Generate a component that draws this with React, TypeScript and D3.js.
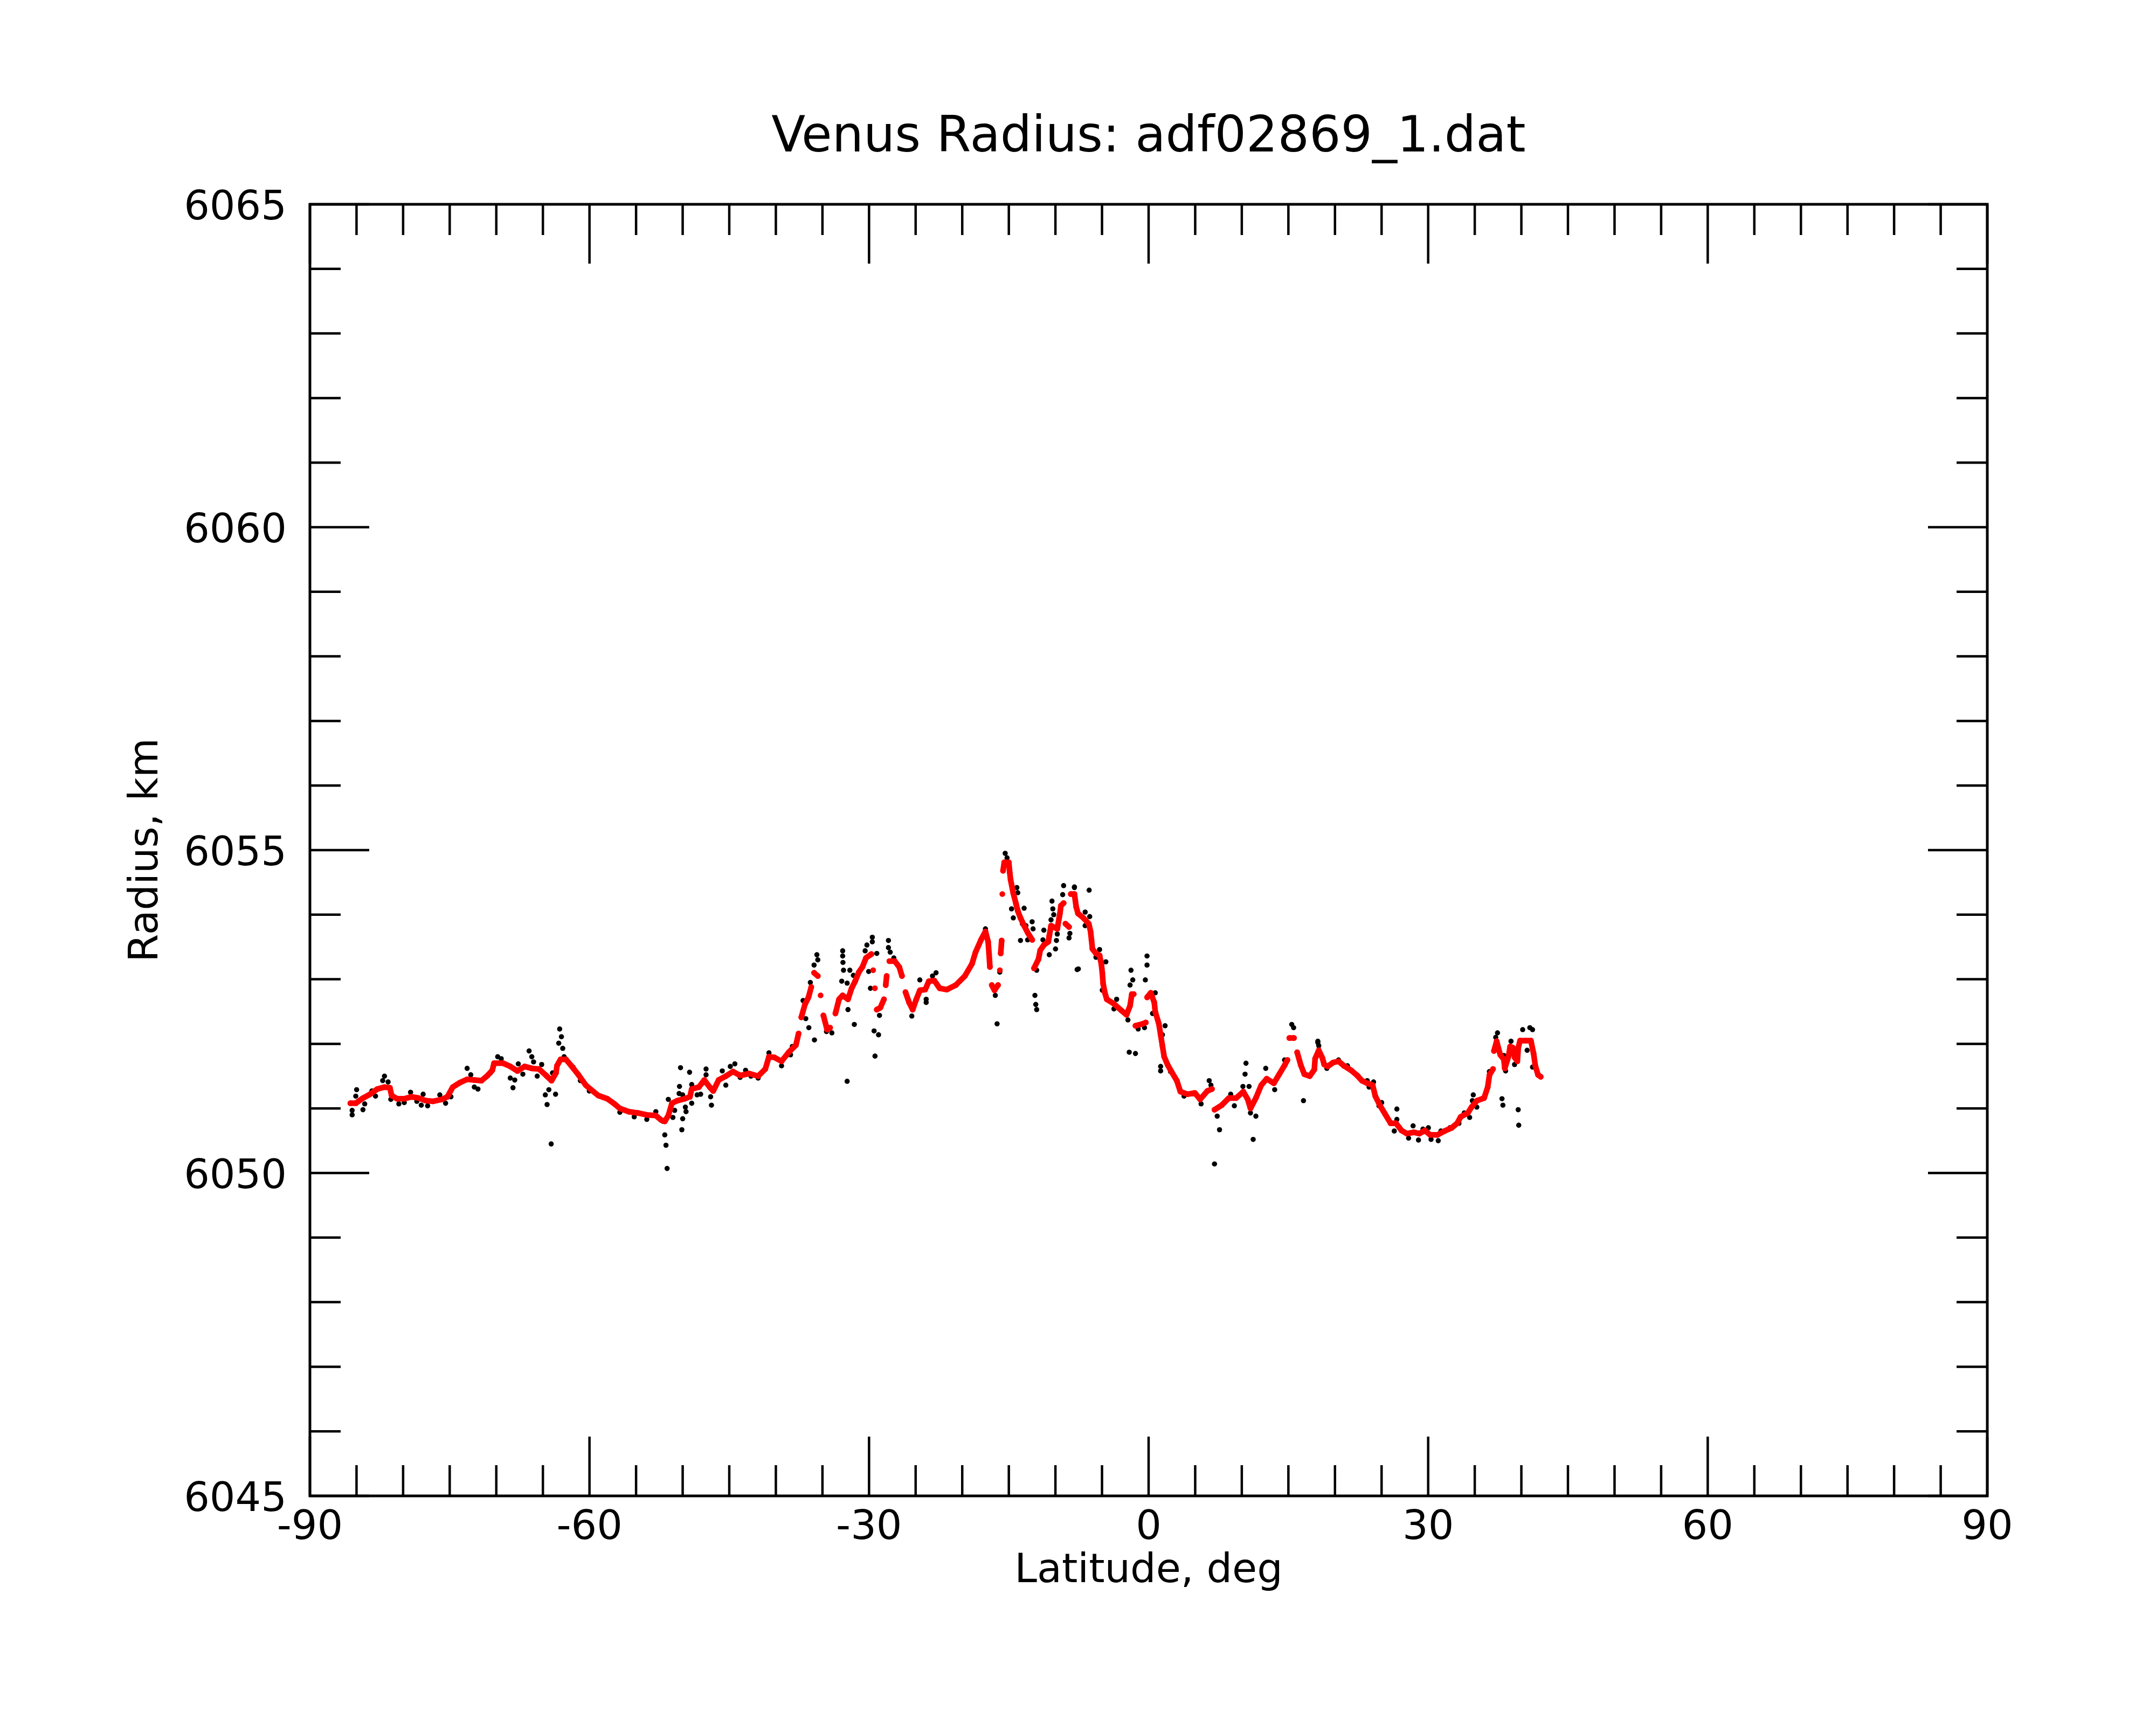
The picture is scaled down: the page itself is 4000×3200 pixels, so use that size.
// App.tsx
// Venus radius profile vs. latitude: raw samples (black) with the smoothed
// profile (red) drawn over them, in an IDL-style boxed frame.
import React, { useMemo } from 'react';
import * as d3 from 'd3';

const title = 'Venus Radius: adf02869_1.dat';
const xLabel = 'Latitude, deg';
const yLabel = 'Radius, km';

const xDomain: [number, number] = [-90, 90];
const yDomain: [number, number] = [6045, 6065];
const xMajorTicks = [-90, -60, -30, 0, 30, 60, 90];
const yMajorTicks = [6045, 6050, 6055, 6060, 6065];
const xMinorStep = 5;
const yMinorStep = 1;

// smoothed profile [latitude, radius km]
const smoothPoints: [number, number][] = [
  [-85.66, 6051.08], [-85.08, 6051.08], [-84.31, 6051.16], [-83.54, 6051.22],
  [-82.77, 6051.3], [-82.0, 6051.33], [-81.42, 6051.32], [-81.23, 6051.2],
  [-80.65, 6051.15], [-79.88, 6051.15], [-79.11, 6051.18], [-78.33, 6051.16],
  [-77.56, 6051.12], [-76.8, 6051.11], [-75.83, 6051.14], [-75.25, 6051.18],
  [-74.67, 6051.33], [-73.9, 6051.4], [-73.13, 6051.45], [-72.36, 6051.44],
  [-71.59, 6051.43], [-71.01, 6051.5], [-70.43, 6051.59], [-70.24, 6051.7],
  [-69.27, 6051.7], [-68.5, 6051.65], [-67.73, 6051.58], [-66.96, 6051.65],
  [-66.19, 6051.62], [-65.42, 6051.61], [-64.65, 6051.51], [-64.07, 6051.43],
  [-63.59, 6051.55], [-63.49, 6051.66], [-63.1, 6051.76], [-62.53, 6051.76],
  [-61.95, 6051.66], [-61.18, 6051.52], [-60.4, 6051.36], [-59.82, 6051.29],
  [-59.06, 6051.2], [-58.09, 6051.15], [-57.32, 6051.07], [-56.74, 6051.0],
  [-55.78, 6050.95], [-54.81, 6050.93], [-53.85, 6050.9], [-52.88, 6050.89],
  [-52.31, 6050.82], [-51.92, 6050.8], [-51.54, 6050.89], [-51.15, 6051.08],
  [-50.57, 6051.12], [-49.8, 6051.15], [-49.22, 6051.18], [-49.03, 6051.3],
  [-48.26, 6051.33], [-47.68, 6051.44], [-47.1, 6051.33], [-46.72, 6051.27],
  [-46.14, 6051.44], [-45.37, 6051.5], [-44.6, 6051.57], [-43.83, 6051.51],
  [-42.86, 6051.54], [-41.9, 6051.5], [-41.13, 6051.61], [-40.74, 6051.8],
  [-40.16, 6051.79], [-39.39, 6051.73], [-38.62, 6051.87], [-37.85, 6051.98],
  [-37.56, 6052.16], [-37.27, 6052.41], [-36.88, 6052.61], [-36.5, 6052.72],
  [-36.2, 6052.88], [-35.9, 6053.1], [-35.5, 6053.05], [-35.2, 6052.75],
  [-34.9, 6052.44], [-34.5, 6052.22], [-34.18, 6052.25], [-33.61, 6052.47],
  [-33.22, 6052.69], [-32.84, 6052.75], [-32.26, 6052.69], [-31.87, 6052.86],
  [-31.49, 6052.97], [-31.1, 6053.11], [-30.71, 6053.19], [-30.33, 6053.33],
  [-29.75, 6053.39], [-29.56, 6053.14], [-29.37, 6052.86], [-29.17, 6052.53],
  [-28.79, 6052.56], [-28.4, 6052.69], [-28.21, 6052.91], [-28.11, 6053.05],
  [-27.82, 6053.28], [-27.24, 6053.28], [-26.76, 6053.19], [-26.47, 6053.05],
  [-26.09, 6052.8], [-25.7, 6052.64], [-25.32, 6052.53], [-24.93, 6052.69],
  [-24.54, 6052.83], [-23.97, 6052.84], [-23.58, 6052.97], [-23.0, 6052.98],
  [-22.42, 6052.86], [-21.65, 6052.84], [-20.69, 6052.91], [-19.72, 6053.05],
  [-18.95, 6053.24], [-18.57, 6053.42], [-17.99, 6053.61], [-17.51, 6053.74],
  [-17.22, 6053.58], [-17.12, 6053.39], [-17.03, 6053.19], [-16.83, 6052.91],
  [-16.54, 6052.83], [-16.16, 6052.91], [-15.96, 6053.14], [-15.87, 6053.4],
  [-15.77, 6053.6], [-15.7, 6054.32], [-15.62, 6054.68], [-15.49, 6054.81],
  [-15.0, 6054.81], [-14.9, 6054.65], [-14.81, 6054.54], [-14.52, 6054.33],
  [-14.23, 6054.17], [-14.04, 6054.06], [-13.75, 6053.95], [-13.36, 6053.83],
  [-12.97, 6053.72], [-12.49, 6053.61], [-12.3, 6053.17], [-11.82, 6053.31],
  [-11.63, 6053.45], [-11.24, 6053.53], [-10.76, 6053.58], [-10.66, 6053.67],
  [-10.47, 6053.83], [-9.8, 6053.78], [-9.6, 6053.95], [-9.5, 6054.03],
  [-9.41, 6054.14], [-9.12, 6054.18], [-8.92, 6053.86], [-8.54, 6053.81],
  [-8.35, 6054.32], [-7.96, 6054.32], [-7.77, 6054.12], [-7.58, 6054.02],
  [-7.0, 6053.95], [-6.42, 6053.86], [-6.23, 6053.74], [-6.13, 6053.61],
  [-6.03, 6053.47], [-5.65, 6053.4], [-5.26, 6053.37], [-5.07, 6053.23],
  [-4.97, 6053.1], [-4.88, 6052.93], [-4.69, 6052.79], [-4.49, 6052.69],
  [-3.72, 6052.62], [-2.95, 6052.52], [-2.37, 6052.45], [-1.99, 6052.59],
  [-1.8, 6052.77], [-1.6, 6052.77], [-1.41, 6052.28], [-0.64, 6052.31],
  [-0.3, 6052.33], [-0.16, 6052.72], [0.23, 6052.79], [0.61, 6052.64],
  [0.71, 6052.5], [1.1, 6052.31], [1.29, 6052.14], [1.48, 6051.97],
  [1.67, 6051.8], [2.06, 6051.67], [2.45, 6051.57], [3.03, 6051.43],
  [3.41, 6051.26], [4.18, 6051.22], [4.96, 6051.24], [5.53, 6051.14],
  [6.3, 6051.27], [6.8, 6051.3], [7.07, 6050.98], [7.84, 6051.05],
  [8.61, 6051.16], [9.39, 6051.16], [10.16, 6051.26], [10.64, 6051.14],
  [10.93, 6051.0], [11.51, 6051.16], [12.09, 6051.36], [12.67, 6051.46],
  [13.44, 6051.39], [14.02, 6051.53], [14.6, 6051.67], [14.9, 6051.75],
  [15.1, 6052.09], [15.6, 6052.09], [15.94, 6051.87], [16.33, 6051.67],
  [16.71, 6051.53], [17.29, 6051.5], [17.78, 6051.6], [17.87, 6051.77],
  [18.26, 6051.9], [18.65, 6051.78], [18.84, 6051.68], [19.22, 6051.65],
  [19.8, 6051.71], [20.38, 6051.73], [20.96, 6051.66], [21.73, 6051.59],
  [22.31, 6051.52], [22.89, 6051.43], [23.46, 6051.39], [24.04, 6051.36],
  [24.33, 6051.19], [24.81, 6051.05], [25.39, 6050.91], [25.97, 6050.77],
  [26.55, 6050.77], [27.13, 6050.66], [27.71, 6050.61], [28.48, 6050.63],
  [29.06, 6050.61], [29.64, 6050.66], [30.21, 6050.59], [30.99, 6050.59],
  [31.76, 6050.65], [32.53, 6050.7], [33.11, 6050.77], [33.49, 6050.87],
  [34.26, 6050.93], [34.65, 6051.02], [35.23, 6051.12], [36.0, 6051.16],
  [36.39, 6051.33], [36.58, 6051.52], [36.96, 6051.61], [37.06, 6051.89],
  [37.35, 6052.04], [37.54, 6051.93], [37.74, 6051.83], [38.12, 6051.76],
  [38.22, 6051.62], [38.61, 6051.8], [38.8, 6051.96], [39.09, 6051.94],
  [39.28, 6051.79], [39.57, 6051.73], [39.67, 6051.94], [39.86, 6052.05],
  [40.44, 6052.05], [41.02, 6052.05], [41.31, 6051.85], [41.5, 6051.66],
  [41.79, 6051.52], [42.08, 6051.49],
];

// raw samples [latitude, radius km]
const rawPoints: [number, number][] = [
  [-85.47, 6050.9], [-85.47, 6050.97], [-84.99, 6051.29], [-85.08, 6051.19],
  [-84.31, 6050.98], [-84.12, 6051.07], [-83.35, 6051.27], [-82.96, 6051.19],
  [-82.0, 6051.5], [-82.19, 6051.43], [-81.61, 6051.41], [-81.32, 6051.14],
  [-80.46, 6051.07], [-79.88, 6051.09], [-79.2, 6051.25], [-78.53, 6051.11],
  [-78.05, 6051.05], [-77.85, 6051.22], [-77.37, 6051.04], [-76.06, 6051.21],
  [-75.44, 6051.08], [-74.87, 6051.18], [-73.13, 6051.62], [-72.74, 6051.52],
  [-72.36, 6051.33], [-71.97, 6051.3], [-70.62, 6051.55], [-69.85, 6051.8],
  [-69.47, 6051.77], [-68.5, 6051.47], [-68.21, 6051.32], [-68.02, 6051.44],
  [-67.64, 6051.69], [-67.15, 6051.53], [-66.48, 6051.89], [-66.19, 6051.8],
  [-66.0, 6051.72], [-65.61, 6051.5], [-65.13, 6051.68], [-64.74, 6051.21],
  [-64.36, 6051.29], [-64.55, 6051.06], [-63.64, 6051.22], [-64.11, 6050.45],
  [-63.97, 6051.55], [-63.2, 6052.23], [-63.01, 6052.11], [-63.3, 6052.01],
  [-62.87, 6051.93], [-62.72, 6051.8], [-61.76, 6051.64], [-60.98, 6051.43],
  [-60.02, 6051.27], [-56.74, 6050.94], [-55.2, 6050.87], [-53.85, 6050.83],
  [-52.88, 6050.95], [-52.11, 6050.8], [-51.92, 6050.59], [-51.79, 6050.43],
  [-51.67, 6050.07], [-51.54, 6051.14], [-51.05, 6050.86], [-50.86, 6050.97],
  [-50.23, 6051.63], [-49.26, 6051.56], [-50.34, 6051.34], [-50.38, 6051.23],
  [-50.0, 6051.21], [-49.71, 6051.02], [-49.64, 6050.95], [-50.0, 6050.84],
  [-50.09, 6050.67], [-49.03, 6051.08], [-49.03, 6051.37], [-48.45, 6051.21],
  [-48.07, 6051.22], [-47.49, 6051.61], [-47.49, 6051.52], [-47.0, 6051.18],
  [-46.91, 6051.05], [-45.75, 6051.58], [-45.37, 6051.36], [-44.89, 6051.65],
  [-44.4, 6051.69], [-43.83, 6051.48], [-43.25, 6051.59], [-42.67, 6051.5],
  [-41.9, 6051.47], [-40.74, 6051.86], [-39.39, 6051.66], [-38.43, 6051.83],
  [-38.23, 6051.96], [-37.08, 6052.67], [-36.79, 6052.39], [-36.46, 6052.25],
  [-35.86, 6052.06], [-34.57, 6052.19], [-36.3, 6052.95], [-35.9, 6053.22],
  [-35.6, 6053.38], [-35.5, 6053.3], [-33.99, 6052.17], [-32.83, 6053.44],
  [-32.83, 6053.36], [-32.8, 6053.26], [-32.74, 6053.14], [-32.06, 6053.14],
  [-32.93, 6052.97], [-32.35, 6052.94], [-31.68, 6053.06], [-32.26, 6052.53],
  [-31.58, 6052.3], [-32.35, 6051.42], [-29.65, 6053.65], [-29.65, 6053.58],
  [-30.23, 6053.53], [-30.42, 6053.44], [-29.17, 6053.4], [-30.04, 6053.12],
  [-29.85, 6052.86], [-29.46, 6052.2], [-28.98, 6052.14], [-29.36, 6051.81],
  [-28.88, 6052.44], [-27.92, 6053.6], [-27.92, 6053.49], [-27.73, 6053.42],
  [-27.34, 6053.33], [-25.41, 6052.43], [-24.55, 6052.99], [-23.87, 6052.69],
  [-23.87, 6052.64], [-22.81, 6053.1], [-23.19, 6053.05], [-17.51, 6053.78],
  [-16.45, 6052.75], [-16.26, 6052.31], [-15.97, 6053.11], [-15.39, 6054.95],
  [-15.19, 6054.88], [-14.14, 6054.42], [-14.04, 6054.34], [-14.71, 6054.09],
  [-14.52, 6053.95], [-13.36, 6054.1], [-13.55, 6053.86], [-13.75, 6053.6],
  [-13.17, 6053.83], [-12.98, 6053.61], [-12.5, 6053.89], [-12.4, 6053.78],
  [-12.2, 6052.75], [-12.11, 6052.61], [-12.01, 6052.53], [-12.01, 6053.14],
  [-11.24, 6053.76], [-11.34, 6053.61], [-10.66, 6053.38], [-9.99, 6053.47],
  [-9.89, 6053.6], [-10.37, 6054.21], [-10.28, 6054.09], [-10.18, 6054.0],
  [-10.47, 6053.92], [-9.8, 6053.7], [-9.12, 6054.45], [-9.22, 6054.31],
  [-8.54, 6053.64], [-8.45, 6053.71], [-7.96, 6054.42], [-7.67, 6053.15],
  [-7.96, 6054.43], [-6.38, 6054.38], [-6.81, 6054.04], [-6.32, 6053.97],
  [-6.81, 6053.83], [-7.54, 6053.16], [-5.26, 6053.46], [-4.59, 6053.27],
  [-5.65, 6053.34], [-4.97, 6052.83], [-3.43, 6052.69], [-3.72, 6052.54],
  [-1.89, 6053.14], [-1.7, 6052.99], [-1.99, 6052.91], [-2.22, 6052.37],
  [-2.08, 6051.87], [-1.41, 6051.85], [-0.44, 6052.25], [-1.12, 6052.23],
  [-0.17, 6053.36], [-0.17, 6053.22], [-0.35, 6052.99], [0.71, 6052.79],
  [0.42, 6052.47], [1.77, 6052.28], [1.48, 6052.14], [1.29, 6051.65],
  [1.29, 6051.58], [2.35, 6051.57], [3.8, 6051.19], [5.63, 6051.07],
  [6.5, 6051.43], [6.69, 6051.36], [7.36, 6050.88], [7.61, 6050.67],
  [7.07, 6050.14], [8.81, 6051.22], [9.2, 6051.04], [10.45, 6051.7],
  [10.35, 6051.53], [10.12, 6051.34], [10.78, 6051.34], [10.93, 6050.93],
  [11.51, 6050.88], [11.22, 6050.52], [12.57, 6051.62], [13.53, 6051.29],
  [14.59, 6051.75], [15.36, 6052.3], [15.56, 6052.25], [16.62, 6051.12],
  [18.16, 6052.02], [18.16, 6052.04], [18.26, 6051.97], [19.13, 6051.62],
  [20.38, 6051.75], [21.34, 6051.66], [22.5, 6051.5], [23.46, 6051.43],
  [23.66, 6051.33], [24.14, 6051.41], [25.01, 6051.09], [24.72, 6051.04],
  [26.36, 6050.65], [26.64, 6050.99], [26.64, 6050.83], [27.9, 6050.54],
  [28.38, 6050.73], [28.96, 6050.51], [29.44, 6050.68], [30.02, 6050.7],
  [30.31, 6050.52], [31.08, 6050.5], [31.37, 6050.65], [32.33, 6050.7],
  [33.3, 6050.77], [33.87, 6050.93], [34.45, 6050.86], [34.84, 6051.21],
  [34.74, 6051.12], [35.22, 6051.02], [36.57, 6051.57], [37.44, 6052.17],
  [37.25, 6052.1], [37.92, 6051.15], [38.02, 6051.05], [38.11, 6051.82],
  [38.31, 6051.58], [38.89, 6052.04], [39.27, 6051.68], [39.66, 6050.98],
  [39.72, 6050.74], [40.14, 6052.22], [40.91, 6052.25], [41.2, 6052.22],
  [40.62, 6051.9], [41.2, 6051.64],
];

const WIDTH = 4000;
const HEIGHT = 3200;
const plot = { left: 575, right: 3687, top: 379, bottom: 2775 };
const FONT = '"DejaVu Sans", sans-serif';

export default function App() {
  const x = d3.scaleLinear().domain(xDomain).range([plot.left, plot.right]);
  const y = d3.scaleLinear().domain(yDomain).range([plot.bottom, plot.top]);

  const xMinor = d3.range(xDomain[0], xDomain[1] + 0.001, xMinorStep);
  const yMinor = d3.range(yDomain[0], yDomain[1] + 0.001, yMinorStep);

  // split the smoothed profile where it jumps, so steep parts stay dotted
  const runs = useMemo(() => {
    const out: [number, number][][] = [];
    let cur: [number, number][] = [];
    smoothPoints.forEach((p, i) => {
      if (i > 0) {
        const q = smoothPoints[i - 1];
        if (Math.abs(p[1] - q[1]) > 0.22 || p[0] - q[0] > 1.2) {
          out.push(cur);
          cur = [];
        }
      }
      cur.push(p);
    });
    out.push(cur);
    return out;
  }, []);

  const line = d3
    .line<[number, number]>()
    .x((d) => x(d[0]))
    .y((d) => y(d[1]));

  const minorLen = 57;
  const majorLen = 110;

  return (
    <div style={{ position: 'absolute', left: 0, top: 0 }}>
      <svg width={WIDTH} height={HEIGHT} style={{ display: 'block', background: '#fff' }}>
        <rect width={WIDTH} height={HEIGHT} fill="#fff" />

        {/* raw samples */}
        <g fill="#000">
          {rawPoints.map((d, i) => (
            <circle key={i} cx={x(d[0])} cy={y(d[1])} r={4.8} />
          ))}
        </g>

        {/* smoothed profile */}
        <g>
          {runs
            .filter((r) => r.length > 1)
            .map((r, i) => (
              <path
                key={i}
                d={line(r) || ''}
                fill="none"
                stroke="#ff0000"
                strokeWidth={10.5}
                strokeLinecap="round"
                strokeLinejoin="round"
              />
            ))}
          {smoothPoints.map((d, i) => (
            <circle key={i} cx={x(d[0])} cy={y(d[1])} r={5.3} fill="#ff0000" />
          ))}
        </g>

        {/* frame */}
        <rect
          x={plot.left}
          y={plot.top}
          width={plot.right - plot.left}
          height={plot.bottom - plot.top}
          fill="none"
          stroke="#000"
          strokeWidth={5}
        />

        {/* ticks on all four sides, pointing inward */}
        <g stroke="#000" strokeWidth={4.5}>
          {xMinor.map((v) => {
            const len = xMajorTicks.includes(v) ? majorLen : minorLen;
            return (
              <g key={v}>
                <line x1={x(v)} x2={x(v)} y1={plot.bottom} y2={plot.bottom - len} />
                <line x1={x(v)} x2={x(v)} y1={plot.top} y2={plot.top + len} />
              </g>
            );
          })}
          {yMinor.map((v) => {
            const len = yMajorTicks.includes(v) ? majorLen : minorLen;
            return (
              <g key={v}>
                <line x1={plot.left} x2={plot.left + len} y1={y(v)} y2={y(v)} />
                <line x1={plot.right} x2={plot.right - len} y1={y(v)} y2={y(v)} />
              </g>
            );
          })}
        </g>

        <g fontFamily={FONT} fontSize={75} fill="#000">
          {xMajorTicks.map((v) => (
            <text key={v} x={x(v)} y={plot.bottom + 80} textAnchor="middle">
              {v}
            </text>
          ))}
          {yMajorTicks.map((v) => (
            <text key={v} x={plot.left - 43} y={y(v) + 28} textAnchor="end">
              {v}
            </text>
          ))}
          <text x={(plot.left + plot.right) / 2} y={2935} textAnchor="middle">
            {xLabel}
          </text>
          <text
            transform={`translate(292, ${(plot.top + plot.bottom) / 2}) rotate(-90)`}
            textAnchor="middle"
          >
            {yLabel}
          </text>
        </g>

        <text
          x={(plot.left + plot.right) / 2}
          y={281}
          textAnchor="middle"
          fontFamily={FONT}
          fontSize={92}
          fill="#000"
        >
          {title}
        </text>
      </svg>
    </div>
  );
}
